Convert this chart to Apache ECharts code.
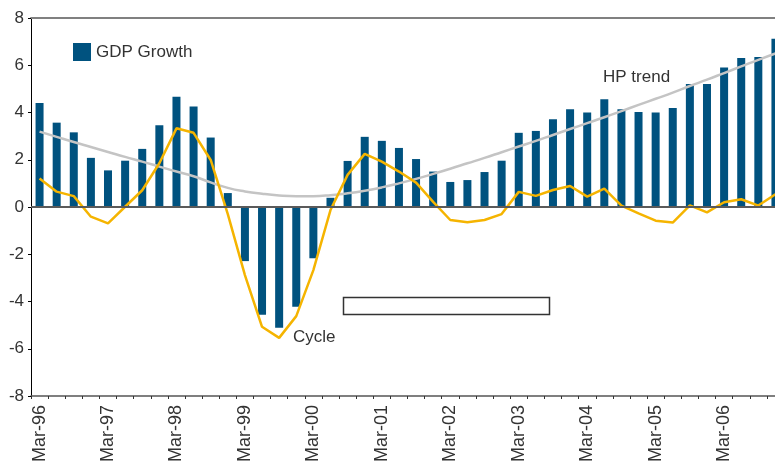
<!DOCTYPE html>
<html>
<head>
<meta charset="utf-8">
<script src="https://cdn.jsdelivr.net/npm/echarts@6/dist/echarts.min.js"></script>
<style>
html,body{margin:0;padding:0;background:#fff;}
#chart{width:775px;height:462px;}
</style>
</head>
<body>
<div id="chart"></div>
<script>
var categories = [
  "Mar-96","Jun-96","Sep-96","Dec-96","Mar-97","Jun-97","Sep-97","Dec-97",
  "Mar-98","Jun-98","Sep-98","Dec-98","Mar-99","Jun-99","Sep-99","Dec-99",
  "Mar-00","Jun-00","Sep-00","Dec-00","Mar-01","Jun-01","Sep-01","Dec-01",
  "Mar-02","Jun-02","Sep-02","Dec-02","Mar-03","Jun-03","Sep-03","Dec-03",
  "Mar-04","Jun-04","Sep-04","Dec-04","Mar-05","Jun-05","Sep-05","Dec-05",
  "Mar-06","Jun-06","Sep-06","Dec-06"
];
var gdpGrowth = [4.4,3.57,3.16,2.08,1.55,1.96,2.46,3.46,4.67,4.25,
  2.94,0.59,-2.29,-4.56,-5.11,-4.22,-2.17,0.39,1.95,2.97,
  2.80,2.50,2.03,1.50,1.06,1.14,1.48,1.96,3.14,3.22,
  3.71,4.14,4.0,4.56,4.14,4.02,4.0,4.19,5.21,5.21,
  5.9,6.31,6.35,7.12];
var cycle = [1.21,0.65,0.46,-0.41,-0.69,0.01,0.71,1.85,3.33,3.14,
  1.99,-0.3,-2.88,-5.07,-5.54,-4.62,-2.67,-0.13,1.36,2.25,
  1.92,1.5,1.03,0.22,-0.55,-0.65,-0.55,-0.3,0.64,0.47,
  0.72,0.89,0.44,0.78,0.06,-0.27,-0.58,-0.66,0.07,-0.23,
  0.2,0.33,0.06,0.54];
var hpTrend = [3.19,2.97,2.75,2.54,2.33,2.12,1.92,1.71,1.5,1.3,
  1.04,0.81,0.66,0.56,0.49,0.46,0.46,0.5,0.58,0.69,
  0.83,1.0,1.19,1.4,1.62,1.85,2.08,2.32,2.56,2.8,
  3.05,3.3,3.55,3.8,4.06,4.32,4.58,4.84,5.12,5.39,
  5.67,5.95,6.23,6.5];
var yTicks = {min:-8, max:8, interval:2};

var FONT = '"Liberation Sans", Arial, sans-serif';
var chart = echarts.init(document.getElementById('chart'), null, {renderer:'canvas'});
chart.setOption({
  animation:false,
  backgroundColor:'#ffffff',
  grid:{left:31, top:18, width:753, height:378, containLabel:false, outerBoundsMode:'none'},
  legend:{
    data:['GDP Growth'], left:73, top:43, orient:'horizontal', padding:0,
    itemWidth:18, itemHeight:18, icon:'rect',
    textStyle:{fontFamily:FONT, fontSize:17, color:'#333'}
  },
  xAxis:[{
    type:'category', data:categories, position:'bottom', boundaryGap:true,
    axisLine:{onZero:false, lineStyle:{color:'#555', width:1.5}},
    axisTick:{show:true, interval:0, length:3, inside:false, lineStyle:{color:'#333'}},
    axisLabel:{interval:3, rotate:90, margin:9, fontFamily:FONT, fontSize:18, color:'#333', hideOverlap:false},
    splitLine:{show:false}
  },{
    type:'category', data:categories, position:'top', boundaryGap:true,
    axisLine:{onZero:false, lineStyle:{color:'#808080', width:2}},
    axisTick:{show:false}, axisLabel:{show:false}, splitLine:{show:false}
  }],
  yAxis:{
    type:'value', min:yTicks.min, max:yTicks.max, interval:yTicks.interval,
    axisLine:{show:true, lineStyle:{color:'#000', width:1}},
    axisTick:{show:true, length:3, lineStyle:{color:'#000'}},
    axisLabel:{margin:7, fontFamily:FONT, fontSize:17, color:'#333'},
    splitLine:{show:false}
  },
  series:[{
    name:'GDP Growth', type:'bar', data:gdpGrowth, barWidth:8,
    itemStyle:{color:'#00527f'},
    markLine:{
      silent:true, symbol:['none','none'], label:{show:false},
      lineStyle:{color:'#5a5a5a', width:2, type:'solid'},
      data:[{yAxis:0}]
    },
    z:2
  },{
    name:'HP trend', type:'line', data:hpTrend, smooth:true, symbol:'none',
    lineStyle:{color:'#c4c4c4', width:2.5}, z:3
  },{
    name:'Cycle', type:'line', data:cycle, symbol:'none',
    lineStyle:{color:'#f5b400', width:2.5}, z:4
  }],
  graphic:[
    {type:'text', left:603, top:69, style:{text:'HP trend', font:'17px '+FONT, fill:'#333'}, z:10},
    {type:'text', left:293, top:329, style:{text:'Cycle', font:'17px '+FONT, fill:'#333'}, z:10},
    {type:'rect', shape:{x:343.5, y:297.5, width:206, height:17}, style:{fill:'#fff', stroke:'#333', lineWidth:1.5}, z:10}
  ]
});
</script>
</body>
</html>
